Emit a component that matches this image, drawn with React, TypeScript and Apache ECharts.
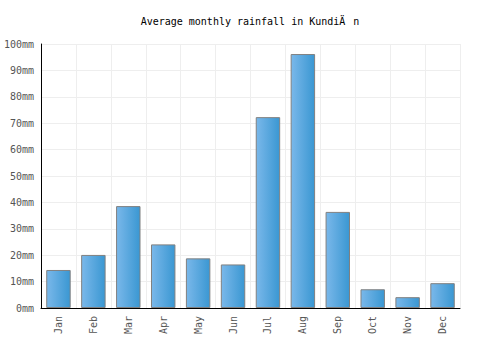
import React, { useEffect, useRef } from "react";
import * as echarts from "echarts";

const months = ["Jan", "Feb", "Mar", "Apr", "May", "Jun", "Jul", "Aug", "Sep", "Oct", "Nov", "Dec"];
const rainfall = [14.4, 20.1, 38.6, 24.1, 18.8, 16.5, 72.3, 96.2, 36.4, 7.1, 4.1, 9.4];
const titleText = "Average monthly rainfall in Kundi\u00C4\u0081n";

export default function App() {
  const ref = useRef<HTMLDivElement>(null);
  useEffect(() => {
    if (!ref.current) return;
    const chart = echarts.init(ref.current, null, { renderer: "svg" });
    const font = "'DejaVu Sans Mono', monospace";
    chart.setOption({
      animation: false,
      backgroundColor: "#ffffff",
      title: {
        text: titleText,
        left: "center",
        top: 11,
        textStyle: { fontFamily: font, fontSize: 10, fontWeight: "normal", color: "#000" },
      },
      grid: { left: 41, right: 40, top: 44, bottom: 42, containLabel: false },
      xAxis: {
        type: "category",
        data: months,
        axisLine: { show: true, lineStyle: { color: "#000", width: 1 } },
        axisTick: { show: false },
        axisLabel: { rotate: 90, color: "#555", fontFamily: font, fontSize: 10, margin: 8 },
        splitLine: { show: true, lineStyle: { color: "#eeeeee", width: 1 } },
        boundaryGap: true,
      },
      yAxis: {
        type: "value",
        min: 0,
        max: 100,
        interval: 10,
        axisLine: { show: true, lineStyle: { color: "#000", width: 1 } },
        axisTick: { show: false },
        axisLabel: { color: "#555", fontFamily: font, fontSize: 10, margin: 7, formatter: "{value}mm" },
        splitLine: { show: true, lineStyle: { color: "#eeeeee", width: 1 } },
      },
      series: [
        {
          type: "bar",
          data: rainfall,
          barWidth: "70%",
          itemStyle: {
            color: new echarts.graphic.LinearGradient(0, 0, 1, 0, [
              { offset: 0, color: "#7ab8ea" },
              { offset: 1, color: "#3a97d2" },
            ]),
            borderColor: "#808080",
            borderWidth: 1,
          },
        },
      ],
    });
    return () => chart.dispose();
  }, []);
  return <div ref={ref} style={{ width: 500, height: 350, position: "absolute", left: 0, top: 0 }} />;
}
